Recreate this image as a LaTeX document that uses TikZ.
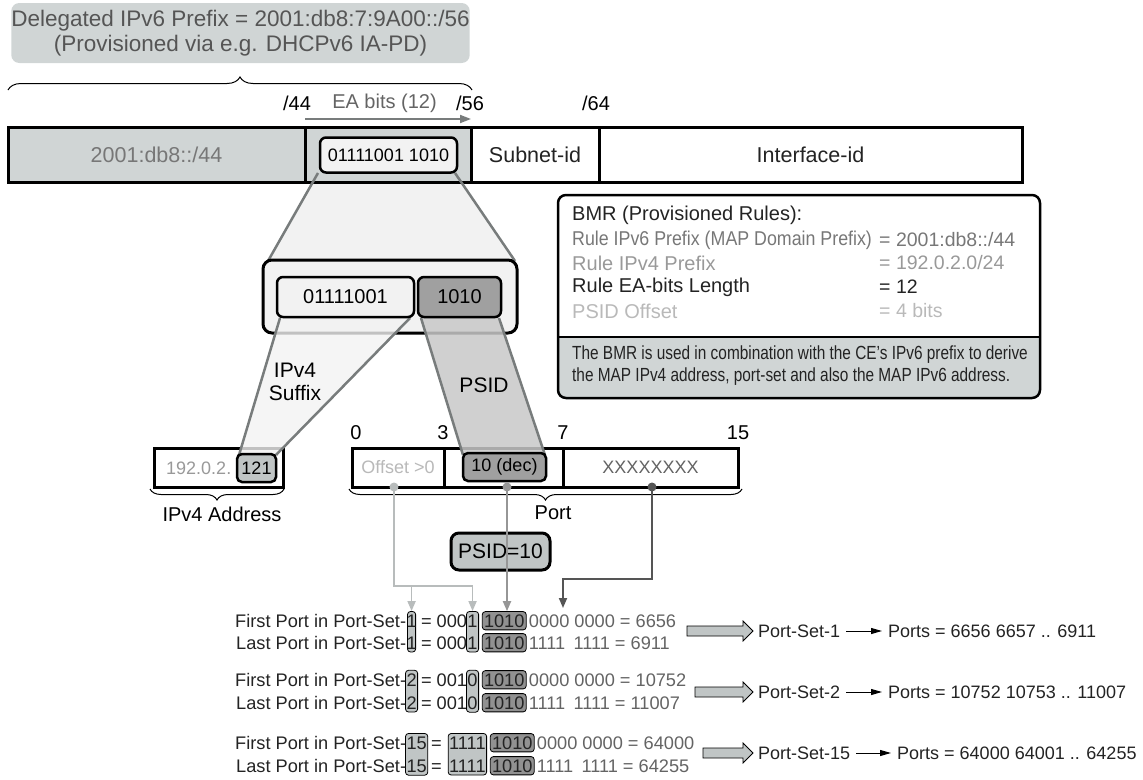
\documentclass[tikz,border=0pt]{standalone}
\usepackage{graphicx}
\usepackage{fontspec}
\setmainfont{Liberation Sans}
\usetikzlibrary{arrows.meta,calc,fit,decorations.pathreplacing}
\pgfdeclarelayer{bg}
\pgfsetlayers{bg,main}
\definecolor{cgreen}{RGB}{208,213,213}
\definecolor{chl}{RGB}{192,197,197}
\definecolor{cdk}{RGB}{160,160,160}
\definecolor{cdkb}{RGB}{145,145,145}
\definecolor{cfun}{RGB}{242,242,242}
\definecolor{cpsid}{RGB}{200,200,200}
\definecolor{cline}{RGB}{120,124,124}
\definecolor{ttop}{RGB}{85,85,85}
\definecolor{tg6}{RGB}{100,100,100}
\definecolor{tg7}{RGB}{119,119,119}
\definecolor{tg9}{RGB}{153,153,153}
\definecolor{tgb}{RGB}{185,185,185}
\definecolor{tdk}{RGB}{35,35,35}
\definecolor{aL}{RGB}{184,188,188}
\definecolor{aM}{RGB}{150,150,150}
\definecolor{aD}{RGB}{85,85,85}
\tikzset{
  fA/.style={font=\fontsize{18}{21}\selectfont},
  fB/.style={font=\fontsize{20}{24}\selectfont},
  fD/.style={font=\fontsize{21.5}{25}\selectfont},
  fC/.style={font=\fontsize{18.2}{21}\selectfont},
  fE/.style={font=\fontsize{20}{24}\selectfont},
  cell/.style={draw=black, line width=3pt, inner sep=0pt, fB},
  rbox/.style={draw=black, line width=2.5pt, rounded corners=6pt, inner sep=0pt},
  ptx/.style={fC, inner sep=0pt, anchor=base west, text=tdk},
  ptg/.style={fC, inner sep=0pt, anchor=base west, text=tg6},
  hlcol/.style={draw=black, line width=0.8pt, fill=chl, rounded corners=3pt, inner xsep=0.8pt, inner ysep=2.8pt},
  hldk/.style={draw=black, line width=0.8pt, fill=cdkb, rounded corners=3pt, inner xsep=1.5pt, inner ysep=2.5pt},
  fatarr/.style={draw=black, line width=0.8pt, fill=chl},
  sarr/.style={draw=black, line width=1pt, -{Triangle[length=11pt,width=6pt]}, shorten <=6pt, shorten >=6pt},
  funline/.style={draw=cline, line width=2.5pt},
  arrL/.style={draw=aL, line width=1.8pt, -{Triangle[length=10pt,width=8pt]}},
  arrM/.style={draw=aM, line width=1.8pt, -{Triangle[length=10pt,width=8pt]}},
  arrD/.style={draw=aD, line width=1.8pt, -{Triangle[length=10pt,width=8pt]}},
  lbl/.style={fB, inner sep=0pt},
  bmrt/.style={fE, inner sep=0pt, anchor=west},
  bmrv/.style={font=\fontsize{19.5}{23}\selectfont, inner sep=0pt, anchor=west},
}
\begin{document}
\begin{tikzpicture}[x=1pt,y=-1pt]
\useasboundingbox (0,0) rectangle (1143,779);

% ---- top delegated prefix box
\node[fill=cgreen, rounded corners=8pt, minimum width=445pt, minimum height=60pt, align=center, text=ttop, font=\fontsize{22.5}{25}\selectfont, inner sep=0pt] (deleg) at (240.5,33) {Delegated IPv6 Prefix = 2001:db8:7:9A00::/56\\(Provisioned via e.g. DHCPv6 IA-PD)};
\draw[decorate, decoration={brace, amplitude=13pt}, line width=1pt] (8,90) -- (472,90);

% ---- bit labels
\node[lbl] (l44) at (297,103) {/44};
\node[lbl, text=tg6] (lea) at (384.5,103) {EA bits (12)};
\node[lbl] (l56) at (470,103) {/56};
\node[lbl] (l64) at (596,103) {/64};
\coordinate (eaA) at (305,119);
\coordinate (eaB) at (471,119);
\draw[draw=cline, line width=1.8pt, -{Triangle[length=11pt,width=8pt]}] (eaA) -- (eaB);

% ---- funnel 1 fill
\fill[cfun] (318,173) -- (455,173) -- (515,262) -- (268,262) -- cycle;

% ---- IPv6 bar
\node[cell, fD, fill=cgreen, text=tg7, minimum width=297pt, minimum height=55pt] (pre) at (156.5,154.5) {2001:db8::/44};
\node[cell, fill=cgreen, minimum width=166pt, minimum height=55pt] (easeg) at (388,154.5) {};
\node[cell, fD, fill=white, text=tdk, minimum width=128pt, minimum height=55pt] (subnet) at (535,154.5) {Subnet-id};
\node[cell, fD, fill=white, text=tdk, minimum width=423pt, minimum height=55pt] (iface) at (810.5,154.5) {Interface-id};
\node[rbox, fill=cfun, fA, minimum width=137pt, minimum height=35pt] (eabits) at (388.5,155) {01111001 1010};
\draw[funline] (318,173) -- (268,261);
\draw[funline] (455,173) -- (515,261);

% ---- big box
\node[rbox, line width=3pt, rounded corners=9pt, fill=cfun, minimum width=254pt, minimum height=73pt] (big) at (390,296.5) {};

% ---- IPv4 address box
\node[cell, fill=white, minimum width=129pt, minimum height=39pt] (v4box) at (218.5,467.5) {};
\node[fA, text=tg9, inner sep=0pt, anchor=west] (v4pre) at (166,468) {192.0.2.};
\draw[decorate, decoration={brace, amplitude=11pt}, line width=1pt] (284,489) -- (150,489);
\node[lbl] (v4lbl) at (222,514) {IPv4 Address};

% ---- port box
\node[cell, fill=white, fA, text=tgb, minimum width=92pt, minimum height=39pt] (pseg1) at (398,467.5) {Offset >0};
\node[cell, fill=white, minimum width=119pt, minimum height=39pt] (pseg2) at (503.5,467.5) {};
\node[cell, fill=white, fA, text=tg6, minimum width=175pt, minimum height=39pt] (pseg3) at (650.5,467.5) {XXXXXXXX};
\node[lbl] (b0) at (356,433) {0};
\node[lbl] (b3) at (443,433) {3};
\node[lbl] (b7) at (563,433) {7};
\node[lbl] (b15) at (738,433) {15};
\draw[decorate, decoration={brace, amplitude=11pt}, line width=1pt] (742,489) -- (349,489);
\node[lbl] (portlbl) at (553,513) {Port};

% ---- trapezoids
\fill[cfun, fill opacity=0.8] (280,318) -- (410,318) -- (276,455) -- (239,455) -- cycle;
\draw[funline] (280,318) -- (239,455);
\draw[funline] (410,318) -- (276,455);
\fill[cpsid, fill opacity=0.85] (421,318) -- (499,318) -- (545,455) -- (463,455) -- cycle;
\draw[funline] (421,318) -- (463,455);
\draw[funline] (499,318) -- (545,455);

% ---- inner boxes
\node[rbox, fill=cfun, fB, minimum width=137pt, minimum height=40pt] (sfx) at (345.5,297) {01111001};
\node[rbox, fill=cdk, fB, minimum width=83pt, minimum height=40pt] (psidbits) at (459.5,297) {1010};
\node[rbox, rounded corners=5pt, fill=chl, fA, minimum width=39pt, minimum height=28pt] (v4sfx) at (256.5,468) {121};
\node[rbox, rounded corners=5pt, fill=cdk, fA, minimum width=83pt, minimum height=28pt] (psiddec) at (504.5,467) {10 (dec)};

\node[lbl, font=\fontsize{21}{23}\selectfont, align=center] (sfxlbl) at (295,382) {IPv4\\Suffix};
\node[lbl, font=\fontsize{21}{23}\selectfont] (psidlbl) at (484,385) {PSID};

% ---- dots
\node[circle, fill=aL, inner sep=0pt, minimum size=9pt] (offdot) at (394,487) {};
\node[circle, fill=aM, inner sep=0pt, minimum size=9pt] (decdot) at (507,487) {};
\node[circle, fill=aD, inner sep=0pt, minimum size=9pt] (xdot) at (652,487) {};

% ---- PSID=10
\node[rbox, line width=3pt, rounded corners=8pt, fill=chl, font=\fontsize{21}{24}\selectfont, minimum width=99pt, minimum height=37pt] (psid10) at (500.5,551.5) {PSID=10};

% ---- BMR box
\begin{scope}
\clip (550,337) rectangle (1050,405);
\fill[cgreen, rounded corners=8pt] (558,195) rectangle (1040,398);
\end{scope}
\node[draw=black, line width=2.5pt, rounded corners=8pt, minimum width=482pt, minimum height=203pt, inner sep=0pt] (bmr) at (799,296.5) {};
\draw[line width=2pt] (558,337) -- (1040,337);
\node[bmrt, text=tdk] (bm0) at (572,215) {BMR (Provisioned Rules):};
\node[bmrt, text=tg7] (bm1) at (572,240) {\scalebox{0.89}[1]{Rule IPv6 Prefix (MAP Domain Prefix)}};
\node[bmrt, text=tg9] (bm2) at (572,263) {Rule IPv4 Prefix};
\node[bmrt, text=tdk] (bm3) at (572,287) {Rule EA-bits Length};
\node[bmrt, text=tgb] (bm4) at (572,311) {PSID Offset};
\node[bmrv, text=tg7] (bv1) at (879,240) {= 2001:db8::/44};
\node[bmrv, text=tg9] (bv2) at (879,263) {= 192.0.2.0/24};
\node[bmrv, text=tdk] (bv3) at (879,287) {= 12};
\node[bmrv, text=tgb] (bv4) at (879,311) {= 4 bits};
\node[bmrt, text=tdk, font=\fontsize{19}{22}\selectfont] (bl1) at (572,355) {\scalebox{0.81}[1]{The BMR is used in combination with the CE’s IPv6 prefix to derive}};
\node[bmrt, text=tdk, font=\fontsize{19}{22}\selectfont] (bl2) at (572,377) {\scalebox{0.81}[1]{the MAP IPv4 address, port-set and also the MAP IPv6 address.}};

% ---- Port-set rows
% row 1
\node[ptx] (r1a1) at (235,627) {First Port in Port-Set-};
\node[ptx] (r1a2) at (r1a1.base east) {1};
\node[ptx] (r1a3) at ($(r1a2.base east)+(4,0)$) {= 000};
\node[ptx] (r1a4) at (r1a3.base east) {1};
\node[ptx] (r1a5) at ($(r1a4.base east)+(6,0)$) {1010};
\node[ptg] (r1a6) at ($(r1a5.base east)+(4,0)$) {0000 0000 = 6656};
\node[ptx] (r1b2) at ($(r1a2.base west)+(0,22)$) {1};
\node[ptx, anchor=base east] (r1b1) at (r1b2.base west) {Last Port in Port-Set-};
\node[ptx] (r1b3) at ($(r1b2.base east)+(4,0)$) {= 000};
\node[ptx] (r1b4) at (r1b3.base east) {1};
\node[ptx] (r1b5) at ($(r1b4.base east)+(6,0)$) {1010};
\node[ptg] (r1b6) at ($(r1b5.base east)+(4,0)$) {1111\hspace{0.45em}1111 = 6911};
% row 2
\node[ptx] (r2a1) at (235,686) {First Port in Port-Set-};
\node[ptx] (r2a2) at (r2a1.base east) {2};
\node[ptx] (r2a3) at ($(r2a2.base east)+(4,0)$) {= 001};
\node[ptx] (r2a4) at (r2a3.base east) {0};
\node[ptx] (r2a5) at ($(r2a4.base east)+(6,0)$) {1010};
\node[ptg] (r2a6) at ($(r2a5.base east)+(4,0)$) {0000 0000 = 10752};
\node[ptx] (r2b2) at ($(r2a2.base west)+(0,23)$) {2};
\node[ptx, anchor=base east] (r2b1) at (r2b2.base west) {Last Port in Port-Set-};
\node[ptx] (r2b3) at ($(r2b2.base east)+(4,0)$) {= 001};
\node[ptx] (r2b4) at (r2b3.base east) {0};
\node[ptx] (r2b5) at ($(r2b4.base east)+(6,0)$) {1010};
\node[ptg] (r2b6) at ($(r2b5.base east)+(4,0)$) {1111\hspace{0.45em}1111 = 11007};
% row 3
\node[ptx] (r3a1) at (235,749) {First Port in Port-Set-};
\node[ptx] (r3a2) at (r3a1.base east) {15};
\node[ptx] (r3a3) at ($(r3a2.base east)+(4,0)$) {=};
\node[ptx] (r3a4) at ($(r3a3.base east)+(7,0)$) {1111};
\node[ptx] (r3a5) at ($(r3a4.base east)+(6,0)$) {1010};
\node[ptg] (r3a6) at ($(r3a5.base east)+(4,0)$) {0000 0000 = 64000};
\node[ptx] (r3b2) at ($(r3a2.base west)+(0,23)$) {15};
\node[ptx, anchor=base east] (r3b1) at (r3b2.base west) {Last Port in Port-Set-};
\node[ptx] (r3b3) at ($(r3b2.base east)+(4,0)$) {=};
\node[ptx] (r3b4) at ($(r3b3.base east)+(7,0)$) {1111};
\node[ptx] (r3b5) at ($(r3b4.base east)+(6,0)$) {1010};
\node[ptg] (r3b6) at ($(r3b5.base east)+(4,0)$) {1111\hspace{0.45em}1111 = 64255};

\begin{pgfonlayer}{bg}
\node[hlcol, inner xsep=-1.2pt, fit=(r1a2)(r1b2)] (h1a) {};
\node[hlcol, fit=(r1a4)(r1b4)] (h1b) {};
\node[hldk, fit=(r1a5)] (h1c) {};
\node[hldk, fit=(r1b5)] (h1d) {};
\node[hlcol, fit=(r2a2)(r2b2)] (h2a) {};
\node[hlcol, fit=(r2a4)(r2b4)] (h2b) {};
\node[hldk, fit=(r2a5)] (h2c) {};
\node[hldk, fit=(r2b5)] (h2d) {};
\node[hlcol, fit=(r3a2)(r3b2)] (h3a) {};
\node[hlcol, fit=(r3a4)(r3b4)] (h3b) {};
\node[hldk, fit=(r3a5)] (h3c) {};
\node[hldk, fit=(r3b5)] (h3d) {};
\end{pgfonlayer}

% ---- arrows from port fields
\coordinate (lj) at (0,586);
\coordinate (xj) at (0,579);
\coordinate (xend) at (563,608);
\draw[arrL] (offdot.center) -- (offdot.center |- lj) -| (h1b.north);
\draw[arrL] (h1a.north |- lj) -- (h1a.north);
\draw[arrM] (decdot.center) -- (decdot.center |- h1c.north);
\draw[arrD] (xdot.center) -- (xdot.center |- xj) -| (xend);

% ---- fat arrows and results
\draw[fatarr] (687,626) -- (743,626) -- (743,621) -- (753,631) -- (743,641) -- (743,636) -- (687,636) -- cycle;
\draw[fatarr] (695,687) -- (743,687) -- (743,682) -- (753,692) -- (743,702) -- (743,697) -- (695,697) -- cycle;
\draw[fatarr] (703,748) -- (743,748) -- (743,743) -- (753,753) -- (743,763) -- (743,758) -- (703,758) -- cycle;
\node[fA, inner sep=0pt, anchor=west, text=tdk] (ps1) at (758,631) {Port-Set-1};
\node[fA, inner sep=0pt, anchor=west, text=tdk] (pp1) at (888,631) {Ports = 6656 6657 .. 6911};
\node[fA, inner sep=0pt, anchor=west, text=tdk] (ps2) at (758,692) {Port-Set-2};
\node[fA, inner sep=0pt, anchor=west, text=tdk] (pp2) at (888,692) {Ports = 10752 10753 .. 11007};
\node[fA, inner sep=0pt, anchor=west, text=tdk] (ps3) at (758,753) {Port-Set-15};
\node[fA, inner sep=0pt, anchor=west, text=tdk] (pp3) at (897,753) {Ports = 64000 64001 .. 64255};
\draw[sarr] (ps1) -- (pp1);
\draw[sarr] (ps2) -- (pp2);
\draw[sarr] (ps3) -- (pp3);
\end{tikzpicture}
\end{document}
